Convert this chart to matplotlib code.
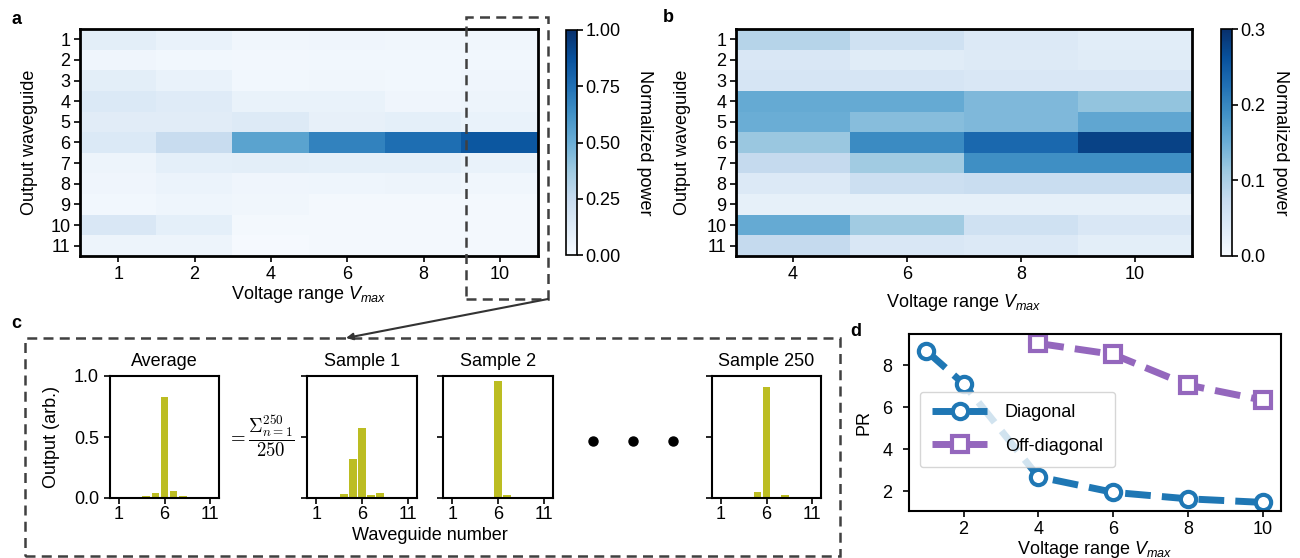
import numpy as np
import matplotlib
matplotlib.use('Agg')
import matplotlib.pyplot as plt
from matplotlib.patches import Rectangle, FancyArrowPatch
from matplotlib.lines import Line2D

plt.rcParams['font.family'] = ['Liberation Sans', 'DejaVu Sans']
plt.rcParams['font.size'] = 13
plt.rcParams['mathtext.fontset'] = 'custom'
plt.rcParams['mathtext.rm'] = 'Liberation Sans'
plt.rcParams['mathtext.it'] = 'Liberation Sans:italic'
plt.rcParams['mathtext.bf'] = 'Liberation Sans:bold'

# ---------------- data ----------------
waveguides = list(range(1, 12))
waveguide_labels = [str(w) for w in waveguides]
vmax_a_labels = ['1', '2', '4', '6', '8', '10']
vmax_b_labels = ['4', '6', '8', '10']

# panel a: rows = output waveguide 1..11, cols = Vmax 1,2,4,6,8,10
power_a = [
    [0.10, 0.07, 0.035, 0.04, 0.035, 0.035],
    [0.04, 0.03, 0.025, 0.03, 0.03, 0.03],
    [0.10, 0.07, 0.03, 0.035, 0.03, 0.04],
    [0.14, 0.12, 0.07, 0.07, 0.04, 0.05],
    [0.11, 0.11, 0.13, 0.08, 0.09, 0.07],
    [0.14, 0.24, 0.55, 0.68, 0.76, 0.85],
    [0.05, 0.09, 0.10, 0.09, 0.09, 0.07],
    [0.04, 0.06, 0.04, 0.045, 0.05, 0.035],
    [0.03, 0.045, 0.035, 0.02, 0.02, 0.02],
    [0.15, 0.09, 0.02, 0.02, 0.02, 0.02],
    [0.05, 0.05, 0.01, 0.02, 0.02, 0.02],
]

# panel b: rows = output waveguide 1..11, cols = Vmax 4,6,8,10
power_b = [
    [0.090, 0.060, 0.040, 0.032],
    [0.045, 0.035, 0.038, 0.035],
    [0.050, 0.050, 0.045, 0.045],
    [0.155, 0.155, 0.135, 0.120],
    [0.150, 0.130, 0.135, 0.160],
    [0.115, 0.195, 0.235, 0.278],
    [0.075, 0.110, 0.190, 0.190],
    [0.040, 0.065, 0.070, 0.070],
    [0.025, 0.025, 0.025, 0.025],
    [0.155, 0.110, 0.060, 0.045],
    [0.075, 0.045, 0.040, 0.030],
]

# panel c: output histograms
out_average = [0.0, 0.010, 0.0, 0.020, 0.045, 0.830, 0.055, 0.020, 0.0, 0.0, 0.0]
out_sample1 = [0.0, 0.012, 0.0, 0.032, 0.320, 0.575, 0.022, 0.038, 0.0, 0.0, 0.0]
out_sample2 = [0.0, 0.010, 0.0, 0.0, 0.0, 0.960, 0.022, 0.0, 0.0, 0.0, 0.0]
out_sample250 = [0.0, 0.010, 0.0, 0.0, 0.048, 0.910, 0.012, 0.022, 0.0, 0.0, 0.0]
sample_titles = ['Average', 'Sample 1', 'Sample 2', 'Sample 250']

# panel d: participation ratio
vmax_diag = [1, 2, 4, 6, 8, 10]
pr_diag = [8.68, 7.11, 2.68, 1.94, 1.63, 1.46]
vmax_off = [4, 6, 8, 10]
pr_off = [9.03, 8.51, 7.05, 6.33]

# ---------------- figure ----------------
W, H = 1300, 558
fig = plt.figure(figsize=(W / 100, H / 100), dpi=100)


def px(l, t, r, b):
    """pixel box (left, top, right, bottom) -> figure fraction rect"""
    return [l / W, 1 - b / H, (r - l) / W, (b - t) / H]


def fx(x):
    return x / W


def fy(y):
    return 1 - y / H


SPW = 2.0

# ---- panel a ----
ax_a = fig.add_axes(px(80, 29, 538, 256))
im_a = ax_a.imshow(np.array(power_a), cmap='Blues', vmin=0, vmax=1,
                   aspect='auto', interpolation='nearest')
ax_a.set_xticks(range(len(vmax_a_labels)))
ax_a.set_xticklabels(vmax_a_labels)
ax_a.set_yticks(range(len(waveguides)))
ax_a.set_yticklabels(waveguide_labels)
ax_a.set_xlabel('Voltage range $V_{max}$', labelpad=1)
ax_a.set_ylabel('Output waveguide', labelpad=8.5)
for s in ax_a.spines.values():
    s.set_linewidth(SPW)
ax_a.tick_params(width=1.2, length=4, pad=3)
cax_a = fig.add_axes(px(566, 30, 577, 255))
cb_a = fig.colorbar(im_a, cax=cax_a, ticks=[0, 0.25, 0.5, 0.75, 1.0])
cb_a.ax.set_yticklabels(['0.00', '0.25', '0.50', '0.75', '1.00'])
cb_a.set_label('Normalized power', rotation=270, labelpad=23)
cb_a.outline.set_linewidth(1.2)
cb_a.ax.tick_params(width=1.2, length=4, pad=2)

# ---- panel b ----
ax_b = fig.add_axes(px(736, 29, 1192, 256))
im_b = ax_b.imshow(np.array(power_b), cmap='Blues', vmin=0, vmax=0.3,
                   aspect='auto', interpolation='nearest')
ax_b.set_xticks(range(len(vmax_b_labels)))
ax_b.set_xticklabels(vmax_b_labels)
ax_b.set_yticks(range(len(waveguides)))
ax_b.set_yticklabels(waveguide_labels)
ax_b.set_xlabel('Voltage range $V_{max}$', labelpad=7)
ax_b.set_ylabel('Output waveguide', labelpad=11)
for s in ax_b.spines.values():
    s.set_linewidth(SPW)
ax_b.tick_params(width=1.2, length=4, pad=3)
cax_b = fig.add_axes(px(1221, 29, 1232, 256))
cb_b = fig.colorbar(im_b, cax=cax_b, ticks=[0, 0.1, 0.2, 0.3])
cb_b.ax.set_yticklabels(['0.0', '0.1', '0.2', '0.3'])
cb_b.set_label('Normalized power', rotation=270, labelpad=17)
cb_b.outline.set_linewidth(1.2)
cb_b.ax.tick_params(width=1.2, length=4, pad=2)

# ---- panel c ----
c_boxes = [(110, 219), (307, 417), (443, 553), (712, 821)]
c_data = [out_average, out_sample1, out_sample2, out_sample250]
for i, ((l, r), vals, title) in enumerate(zip(c_boxes, c_data, sample_titles)):
    ax = fig.add_axes(px(l, 376, r, 498))
    ax.bar(waveguides, vals, width=0.85, color='#bcbd22')
    ax.set_xlim(0, 12)
    ax.set_ylim(0, 1.0)
    ax.set_xticks([1, 6, 11])
    ax.set_yticks([0, 0.5, 1.0])
    if i == 0:
        ax.set_yticklabels(['0.0', '0.5', '1.0'])
        ax.set_ylabel('Output (arb.)', labelpad=10)
    else:
        ax.set_yticklabels([])
    ax.set_title(title, pad=7, fontsize=13)
    for s in ax.spines.values():
        s.set_linewidth(1.5)
    ax.tick_params(width=1.2, length=4, pad=2)
    ax.tick_params(axis='y', pad=4)

fig.text(fx(430), fy(535), 'Waveguide number', ha='center', va='center')
fig.text(fx(261), fy(436), r'$=\dfrac{\Sigma_{n=1}^{250}}{250}$', ha='center',
         va='center', fontsize=13.5, math_fontfamily='cm')
for xd in (593, 633, 673):
    fig.add_artist(Line2D([fx(xd)], [fy(441)], marker='o', markersize=6.5,
                          color='black', transform=fig.transFigure))

# ---- panel d ----
ax_d = fig.add_axes(px(909, 334, 1281, 511))
ax_d.plot(vmax_diag, pr_diag, linestyle='--', color='#1f77b4', lw=5,
          marker='o', ms=11, mfc='white', mew=3, label='Diagonal')
ax_d.plot(vmax_off, pr_off, linestyle='--', color='#9467bd', lw=5,
          marker='s', ms=11, mfc='white', mew=3, label='Off-diagonal')
ax_d.set_xticks([2, 4, 6, 8, 10])
ax_d.set_yticks([2, 4, 6, 8])
ax_d.set_xlim(0.54, 10.49)
ax_d.set_ylim(1.05, 9.48)
ax_d.set_xlabel('Voltage range $V_{max}$', labelpad=1)
ax_d.set_ylabel('PR', labelpad=7)
for s in ax_d.spines.values():
    s.set_linewidth(1.5)
ax_d.tick_params(width=1.2, length=4, pad=3)
ax_d.tick_params(axis='y', pad=8)
ax_d.legend(loc='center left', bbox_to_anchor=(0.0, 0.46), handlelength=3.0,
            borderaxespad=0.6, labelspacing=0.9, borderpad=0.7,
            handletextpad=1.0)

# ---- panel labels ----
for lab, x, y in (('a', 16, 19), ('b', 668, 18), ('c', 16, 323), ('d', 856, 331)):
    fig.text(fx(x), fy(y), lab, fontweight='bold', ha='center', va='center')

# ---- dashed boxes and arrow ----
box_col = '#404040'
fig.add_artist(Rectangle((fx(466), fy(299)), fx(548) - fx(466), fy(17) - fy(299),
                         transform=fig.transFigure, fill=False, ec=box_col,
                         lw=1.8, ls=(0, (4, 2.5))))
fig.add_artist(Rectangle((fx(25), fy(556)), fx(840) - fx(25), fy(338) - fy(556),
                         transform=fig.transFigure, fill=False, ec=box_col,
                         lw=1.8, ls=(0, (4, 2.5))))
fig.add_artist(FancyArrowPatch((fx(548), fy(299)), (fx(346), fy(338)),
                               transform=fig.transFigure, arrowstyle='-|>',
                               mutation_scale=10, color='#333333', lw=1.5,
                               shrinkA=0, shrinkB=0))

fig.savefig('out.png', dpi=100)
